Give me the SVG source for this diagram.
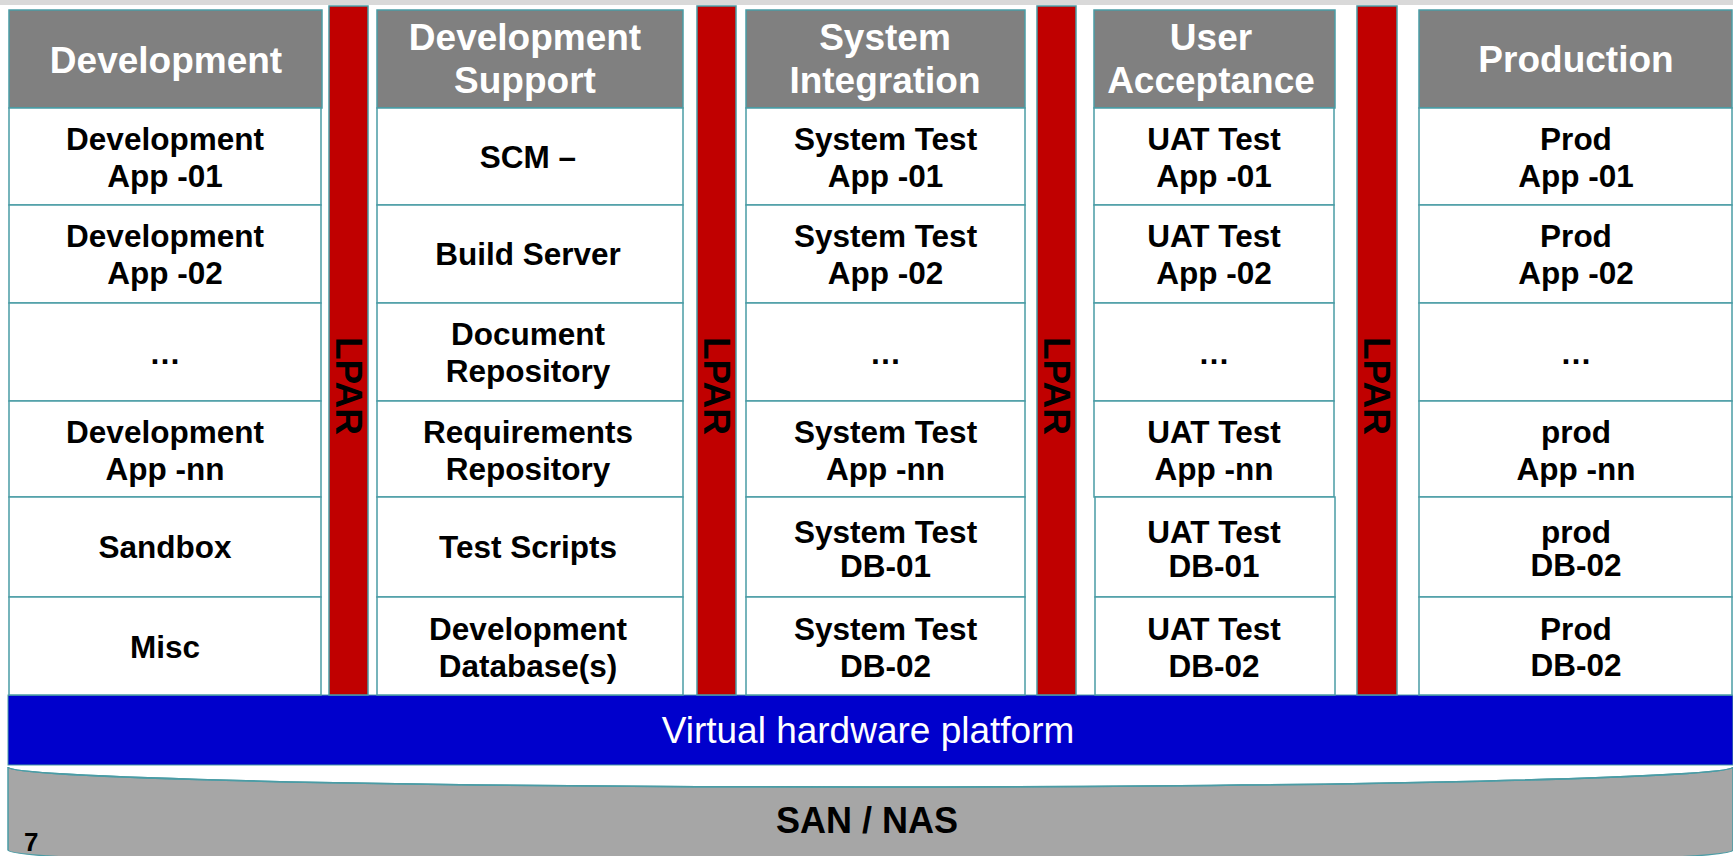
<svg xmlns="http://www.w3.org/2000/svg" width="1733" height="856" viewBox="0 0 1733 856">
<style>
.hdr{fill:#808080;stroke:#4a9ca5;stroke-width:1.5}
.cell{fill:#ffffff;stroke:#4a9ca5;stroke-width:1.5}
.lpar{fill:#c00000;stroke:#4a9ca5;stroke-width:1.5}
.ht{font-family:"Liberation Sans",Arial,sans-serif;font-weight:bold;font-size:37px;fill:#ffffff;text-anchor:middle}
.bt{font-family:"Liberation Sans",Arial,sans-serif;font-weight:bold;font-size:31.5px;fill:#000000;text-anchor:middle}
.lt{font-family:"Liberation Sans",Arial,sans-serif;font-weight:bold;font-size:37px;fill:#000000;text-anchor:middle}
</style>
<rect x="0" y="0" width="1733" height="856" fill="#ffffff"/>
<rect x="0" y="0" width="1733" height="5" fill="#d9d9d9"/>

<g id="san-nas">
<path d="M8,767 L8,850 A862.5,20 0 0 0 1733,850 L1733,767 A862.5,20 0 0 1 8,767 Z" fill="#a6a6a6" stroke="#4a9ca5" stroke-width="1.5"/>
<path d="M8,767 A862.5,20 0 0 0 1733,767" fill="none" stroke="#4a9ca5" stroke-width="1.5"/>
<text x="867" y="833" class="lt" style="font-size:36px">SAN / NAS</text>
<text x="24" y="851" font-family="Liberation Sans,Arial,sans-serif" font-weight="bold" font-size="26" fill="#000">7</text>
</g>

<g id="virtual-hardware-platform">
<rect x="8" y="695" width="1725" height="70" fill="#0000cc" stroke="#4a9ca5" stroke-width="1"/>
<text x="868" y="743" font-family="Liberation Sans,Arial,sans-serif" font-size="37" fill="#ffffff" text-anchor="middle">Virtual hardware platform</text>
</g>

<g id="lpar-1"><rect class="lpar" x="329" y="6" width="39" height="689"/><text class="lt" transform="translate(348.5,386) rotate(90)" y="13">LPAR</text></g>
<g id="lpar-2"><rect class="lpar" x="697" y="6" width="39" height="689"/><text class="lt" transform="translate(716.5,386) rotate(90)" y="13">LPAR</text></g>
<g id="lpar-3"><rect class="lpar" x="1037" y="6" width="39" height="689"/><text class="lt" transform="translate(1056.5,386) rotate(90)" y="13">LPAR</text></g>
<g id="lpar-4"><rect class="lpar" x="1357" y="6" width="40" height="689"/><text class="lt" transform="translate(1377,386) rotate(90)" y="13">LPAR</text></g>

<g id="col-development">
<rect class="hdr" x="9" y="10" width="313" height="98"/>
<text class="ht" x="166" y="73">Development</text>
<rect class="cell" x="9" y="108" width="312" height="97"/>
<text class="bt" x="165" y="150">Development</text><text class="bt" x="165" y="187">App -01</text>
<rect class="cell" x="9" y="205" width="312" height="98"/>
<text class="bt" x="165" y="247">Development</text><text class="bt" x="165" y="284">App -02</text>
<rect class="cell" x="9" y="303" width="312" height="98"/>
<text class="bt" x="165" y="364">…</text>
<rect class="cell" x="9" y="401" width="312" height="96"/>
<text class="bt" x="165" y="443">Development</text><text class="bt" x="165" y="480">App -nn</text>
<rect class="cell" x="9" y="497" width="312" height="100"/>
<text class="bt" x="165" y="558">Sandbox</text>
<rect class="cell" x="9" y="597" width="312" height="98"/>
<text class="bt" x="165" y="658">Misc</text>
</g>

<g id="col-development-support">
<rect class="hdr" x="377" y="10" width="306" height="98"/>
<text class="ht" x="525" y="50">Development</text><text class="ht" x="525" y="93">Support</text>
<rect class="cell" x="377" y="108" width="306" height="97"/>
<text class="bt" x="528" y="168">SCM –</text>
<rect class="cell" x="377" y="205" width="306" height="98"/>
<text class="bt" x="528" y="265">Build Server</text>
<rect class="cell" x="377" y="303" width="306" height="98"/>
<text class="bt" x="528" y="345">Document</text><text class="bt" x="528" y="382">Repository</text>
<rect class="cell" x="377" y="401" width="306" height="96"/>
<text class="bt" x="528" y="443">Requirements</text><text class="bt" x="528" y="480">Repository</text>
<rect class="cell" x="377" y="497" width="306" height="100"/>
<text class="bt" x="528" y="558">Test Scripts</text>
<rect class="cell" x="377" y="597" width="306" height="98"/>
<text class="bt" x="528" y="640">Development</text><text class="bt" x="528" y="677">Database(s)</text>
</g>

<g id="col-system-integration">
<rect class="hdr" x="746" y="10" width="279" height="98"/>
<text class="ht" x="885" y="50">System</text><text class="ht" x="885" y="93">Integration</text>
<rect class="cell" x="746" y="108" width="279" height="97"/>
<text class="bt" x="885.5" y="150">System Test</text><text class="bt" x="885.5" y="187">App -01</text>
<rect class="cell" x="746" y="205" width="279" height="98"/>
<text class="bt" x="885.5" y="247">System Test</text><text class="bt" x="885.5" y="284">App -02</text>
<rect class="cell" x="746" y="303" width="279" height="98"/>
<text class="bt" x="885.5" y="364">…</text>
<rect class="cell" x="746" y="401" width="279" height="96"/>
<text class="bt" x="885.5" y="443">System Test</text><text class="bt" x="885.5" y="480">App -nn</text>
<rect class="cell" x="746" y="497" width="279" height="100"/>
<text class="bt" x="885.5" y="543">System Test</text><text class="bt" x="885.5" y="577">DB-01</text>
<rect class="cell" x="746" y="597" width="279" height="98"/>
<text class="bt" x="885.5" y="640">System Test</text><text class="bt" x="885.5" y="677">DB-02</text>
</g>

<g id="col-user-acceptance">
<rect class="hdr" x="1094" y="10" width="241" height="98"/>
<text class="ht" x="1211" y="50">User</text><text class="ht" x="1211" y="93">Acceptance</text>
<rect class="cell" x="1094" y="108" width="240" height="97"/>
<text class="bt" x="1214" y="150">UAT Test</text><text class="bt" x="1214" y="187">App -01</text>
<rect class="cell" x="1094" y="205" width="240" height="98"/>
<text class="bt" x="1214" y="247">UAT Test</text><text class="bt" x="1214" y="284">App -02</text>
<rect class="cell" x="1094" y="303" width="240" height="98"/>
<text class="bt" x="1214" y="364">…</text>
<rect class="cell" x="1094" y="401" width="240" height="96"/>
<text class="bt" x="1214" y="443">UAT Test</text><text class="bt" x="1214" y="480">App -nn</text>
<rect class="cell" x="1095" y="497" width="240" height="100"/>
<text class="bt" x="1214" y="543">UAT Test</text><text class="bt" x="1214" y="577">DB-01</text>
<rect class="cell" x="1095" y="597" width="240" height="98"/>
<text class="bt" x="1214" y="640">UAT Test</text><text class="bt" x="1214" y="677">DB-02</text>
</g>

<g id="col-production">
<rect class="hdr" x="1419" y="10" width="313" height="98"/>
<text class="ht" x="1576" y="72">Production</text>
<rect class="cell" x="1419" y="108" width="313" height="97"/>
<text class="bt" x="1576" y="150">Prod</text><text class="bt" x="1576" y="187">App -01</text>
<rect class="cell" x="1419" y="205" width="313" height="98"/>
<text class="bt" x="1576" y="247">Prod</text><text class="bt" x="1576" y="284">App -02</text>
<rect class="cell" x="1419" y="303" width="313" height="98"/>
<text class="bt" x="1576" y="364">…</text>
<rect class="cell" x="1419" y="401" width="313" height="96"/>
<text class="bt" x="1576" y="443">prod</text><text class="bt" x="1576" y="480">App -nn</text>
<rect class="cell" x="1419" y="497" width="313" height="100"/>
<text class="bt" x="1576" y="543">prod</text><text class="bt" x="1576" y="576">DB-02</text>
<rect class="cell" x="1419" y="597" width="313" height="98"/>
<text class="bt" x="1576" y="640">Prod</text><text class="bt" x="1576" y="676">DB-02</text>
</g>

<g id="connectors"></g>
</svg>
